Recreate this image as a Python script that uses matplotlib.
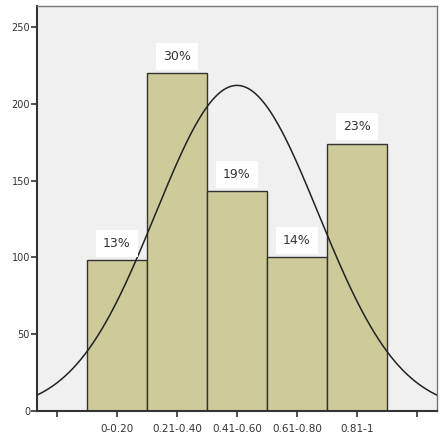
import matplotlib.pyplot as plt
import numpy as np

# histogram data
categories = ['0-0.20', '0.21-0.40', '0.41-0.60', '0.61-0.80', '0.81-1']
counts = [98, 220, 143, 100, 174]
pct_labels = ['13%', '30%', '19%', '14%', '23%']

# fitted normal curve (bin units, bar centres at 1..5)
curve_mean = 3.0
curve_std = 1.356
curve_peak = 212

y_ticks = [0, 50, 100, 150, 200, 250]

fig = plt.figure(figsize=(4.42, 4.36), dpi=100)
fig.patch.set_facecolor('white')
ax = fig.add_axes([37 / 442, 1 - 411 / 436, 400 / 442, 405 / 436])
ax.set_facecolor('#f0f0f0')

x = np.arange(1, len(counts) + 1)
ax.bar(x, counts, width=1.0, color='#cccb99', edgecolor='#333333', linewidth=1.0, zorder=2)

for xi, c, lab in zip(x, counts, pct_labels):
    ax.text(xi, c + 11, lab, ha='center', va='center', fontsize=9, color='#333333',
            bbox=dict(facecolor='white', edgecolor='none', pad=5), zorder=4)

xs = np.linspace(-1 / 3, 19 / 3, 400)
ys = curve_peak * np.exp(-(xs - curve_mean) ** 2 / (2 * curve_std ** 2))
ax.plot(xs, ys, color='#222222', linewidth=1.1, zorder=3)

ax.set_xlim(-1 / 3, 19 / 3)
ax.set_ylim(0, 263.7)
ax.set_yticks(y_ticks)
ax.set_yticklabels([str(t) for t in y_ticks], fontsize=7, color='#333333')
ax.set_xticks(range(0, 7))
ax.set_xticklabels([''] + categories + [''], fontsize=7.5, color='#333333')
ax.tick_params(axis='y', length=4, width=1.2, color='#333333', pad=1)
ax.tick_params(axis='x', length=4, width=1.2, color='#333333', pad=5)

for s in ax.spines.values():
    s.set_color('#777777')
    s.set_linewidth(1.0)
ax.spines['left'].set_color('#333333')
ax.spines['bottom'].set_color('#333333')
ax.spines['left'].set_linewidth(1.5)
ax.spines['bottom'].set_linewidth(1.5)

fig.savefig('out.png', dpi=100)
